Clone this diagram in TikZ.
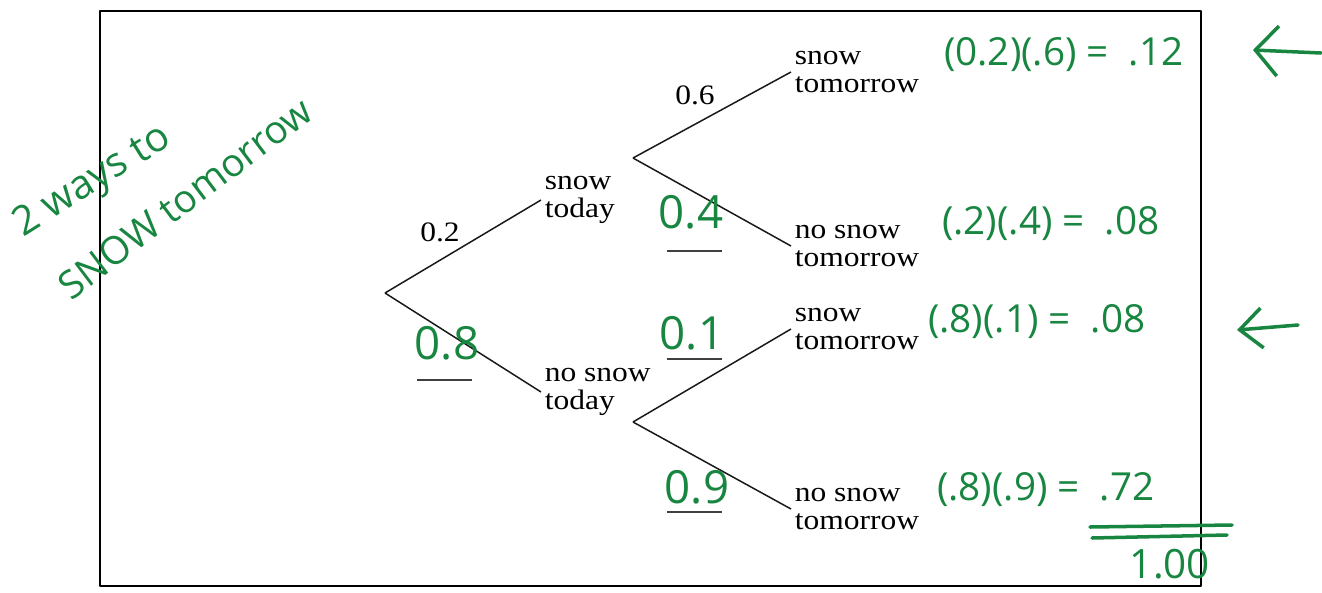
\documentclass[tikz,border=0pt]{standalone}
\usepackage{fontspec}
\setmainfont{Liberation Serif}
\newfontfamily\treefont[FakeStretch=1.12]{Liberation Serif}
\newfontfamily\penfont{Open Sans}
\usetikzlibrary{arrows.meta}
\definecolor{pen}{RGB}{24,134,64}

\begin{document}
\begin{tikzpicture}[
    line join=round,
    % one unit = one pixel of the scanned sheet
    x=0.02cm, y=-0.02cm,
    tree text/.style={font=\treefont\fontsize{16}{16}\selectfont, align=left, inner sep=2pt},
    branch/.style={black!90, line width=0.85pt},
    blank/.style={black!75, line width=0.8pt},
    pen text/.style={font=\penfont\fontsize{26}{28}\selectfont, text=pen, inner sep=1pt},
    pen sum/.style={font=\penfont\fontsize{22}{24}\selectfont, text=pen, inner sep=1pt, anchor=west},
    pen line/.style={pen, line width=2pt, line cap=round}
]

% ---------------------------------------------------------
% 1. SHEET FRAME
% ---------------------------------------------------------
\path [use as bounding box] (0,0) rectangle (1322,592);
\draw[line width=1pt] (100,11) rectangle (1201,586);

% ---------------------------------------------------------
% 2. PRINTED TREE
% ---------------------------------------------------------
\coordinate (R)  at (385,293); % root
\coordinate (sb) at (633,158); % after snow today
\coordinate (nb) at (633,422); % after no snow today

\node[tree text, anchor=west] (st) at (541,200) {snow\\today};
\node[tree text, anchor=west] (nt) at (541,392) {no snow\\today};

\node[tree text, anchor=west] (ss) at (791,72)  {snow\\tomorrow};
\node[tree text, anchor=west] (sn) at (791,246) {no snow\\tomorrow};
\node[tree text, anchor=west] (ns) at (791,329) {snow\\tomorrow};
\node[tree text, anchor=west] (nn) at (791,509) {no snow\\tomorrow};

\draw[branch] (R) -- (st.west);
\draw[branch] (R) -- (nt.west);
\draw[branch] (sb) -- (ss.west);
\draw[branch] (sb) -- (sn.west);
\draw[branch] (nb) -- (ns.west);
\draw[branch] (nb) -- (nn.west);

% printed probabilities
\node[tree text] (pst) at (440,232) {0.2};
\node[tree text] (pss) at (695,95)  {0.6};

% blanks to fill in
\draw[blank] (417,380) -- (472,380);
\draw[blank] (667,251) -- (722,251);
\draw[blank] (667,359) -- (722,359);
\draw[blank] (667,512) -- (722,512);

% ---------------------------------------------------------
% 3. HANDWRITTEN (GREEN PEN)
% ---------------------------------------------------------
\node[pen text] (pnt) at (447,343) {0.8};
\node[pen text] (psn) at (691,212) {0.4};
\node[pen text] (pns) at (692,333) {0.1};
\node[pen text] (pnn) at (697,487) {0.9};

\node[pen sum] (eq1) at (942,55)  {(0.2)(.6) = \ .12};
\node[pen sum] (eq2) at (940,224) {(.2)(.4) = \ .08};
\node[pen sum] (eq3) at (926,322) {(.8)(.1) = \ .08};
\node[pen sum] (eq4) at (935,490) {(.8)(.9) = \ .72};

% total
\draw[pen line] (1090,527) -- (1232,525);
\draw[pen line] (1092,538) -- (1227,535);
\node[pen sum, anchor=center, font=\penfont\fontsize{23}{24}\selectfont] (tot) at (1170,564) {1.00};

% side note
\node[pen text, font=\penfont\fontsize{23}{25}\selectfont, rotate=32] (nt1) at (93,182) {2 ways to};
\node[pen text, font=\penfont\fontsize{22}{24}\selectfont, rotate=37] (nt2) at (185,198) {SNOW tomorrow};

% arrows to the two snow-tomorrow paths
\coordinate (a1) at (1321,53);
\coordinate (a1tip) at (1253,50);
\coordinate (a2) at (1298,325);
\coordinate (a2tip) at (1237,330);
\draw[pen line, -{Straight Barb[length=0.45cm, width=1cm]}] (a1) -- (a1tip);
\draw[pen line, -{Straight Barb[length=0.45cm, width=0.8cm]}] (a2) -- (a2tip);

\end{tikzpicture}
\end{document}
